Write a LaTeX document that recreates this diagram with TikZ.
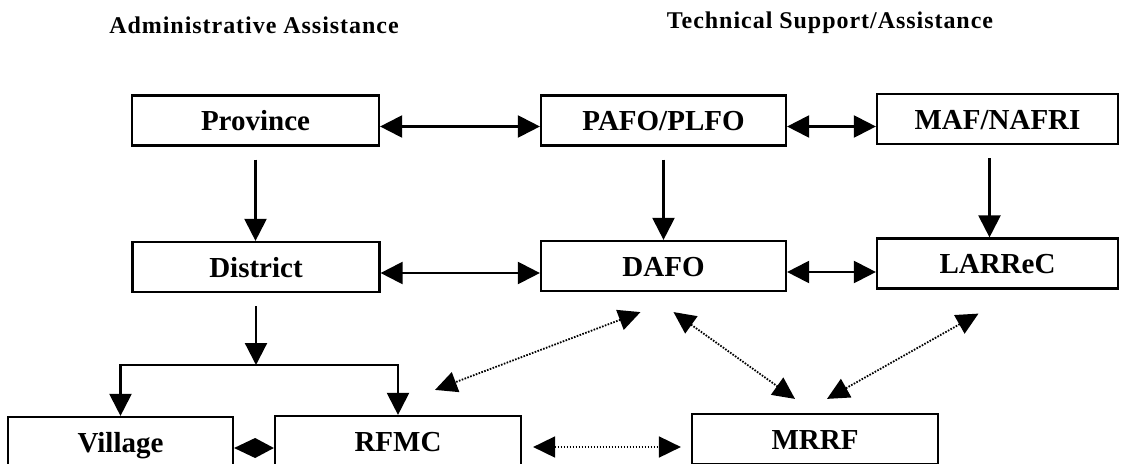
\documentclass[tikz,border=0pt]{standalone}
\usepackage{fontspec}
\setmainfont{Liberation Serif}
\usetikzlibrary{arrows.meta}

\newcommand{\boxfont}{\fontsize{29}{32}\selectfont\bfseries}
\newcommand{\headfont}{\fontsize{24}{27}\selectfont\bfseries\addfontfeatures{LetterSpace=4}}

\begin{document}
\begin{tikzpicture}[x=1pt, y=-1pt,
  box/.style={draw, line width=2.2pt, inner sep=0pt, minimum height=50pt, font=\boxfont, text height=20pt, text depth=-2pt},
  link/.style={line width=2.2pt, >={Triangle[length=22pt,width=22pt]}},
  dots/.style={line width=1.8pt, dash pattern=on 1.6pt off 1.4pt, >={Triangle[length=22pt,width=21pt]}}]

   \useasboundingbox (0,0) rectangle (1121,463);
   \clip (0,0) rectangle (1121,463);

   % headings
   \node[anchor=base, font=\headfont] (admin) at (254,33) {Administrative Assistance};
   \node[anchor=base, font=\headfont] (tech) at (830,28) {Technical Support/Assistance};

   % boxes
   \node[box, minimum width=247pt] (province) at (255.5,120.5) {Province};
   \node[box, minimum width=245pt] (pafo) at (663.5,120.5) {PAFO/PLFO};
   \node[box, minimum width=241pt] (maf) at (997.5,119) {MAF/NAFRI};
   \node[box, minimum width=247pt] (district) at (256,267) {District};
   \node[box, minimum width=245pt] (dafo) at (663.5,266) {DAFO};
   \node[box, minimum width=241pt] (larrec) at (997.5,263.5) {LARReC};
   \node[box, minimum width=225pt] (village) at (120.5,442) {Village};
   \node[box, minimum width=246pt] (rfmc) at (398,441) {RFMC};
   \node[box, minimum width=246pt] (mrrf) at (815,439) {MRRF};

   \draw[link, <->] ([yshift=-6pt]province.east) -- ([yshift=-6pt]province.east -| pafo.west);
   \draw[link, <->] ([yshift=-6pt]pafo.east) -- ([yshift=-6pt]pafo.east -| maf.west);
   \draw[link, <->] ([yshift=-6pt]district.east) -- ([yshift=-6pt]district.east -| dafo.west);
   \draw[link, <->] ([yshift=-6pt]dafo.east) -- ([yshift=-6pt]dafo.east -| larrec.west);
   \fill ([yshift=-6pt]village.east) -- ([shift={(21,-4)}]village.east)
      -- ([yshift=-6pt]village.east -| rfmc.west) -- ([shift={(21,16)}]village.east) -- cycle;

   \draw[link, ->] ([yshift=-13pt]province.south) -- (province.south |- district.north);
   \draw[link, ->] ([yshift=-13pt]pafo.south) -- (dafo.north);
   \draw[link, ->] ([xshift=-8pt,yshift=-13pt]maf.south) -- ([xshift=-8pt]larrec.north);

   \coordinate (split) at (255,365);
   \draw[link, ->] ([yshift=-13pt]district.south) -- (district.south |- split);
   \draw[link, <->] (village.north) -- (village.north |- split) -- (rfmc.north |- split) -- (rfmc.north);

   % dotted links
   \draw[dots, <->] ([shift={(-23,20)}]dafo.south) -- ([shift={(37,-25)}]rfmc.north);
   \draw[dots, <->] ([shift={(10,20)}]dafo.south) -- ([shift={(-20,-14)}]mrrf.north);
   \draw[dots, <->] ([shift={(-19,24)}]larrec.south) -- ([shift={(12,-14)}]mrrf.north);
   \draw[dots, <->] ([xshift=11pt,yshift=-6pt]rfmc.east) -- ([xshift=-10pt,yshift=-6pt]rfmc.east -| mrrf.west);
\end{tikzpicture}
\end{document}
